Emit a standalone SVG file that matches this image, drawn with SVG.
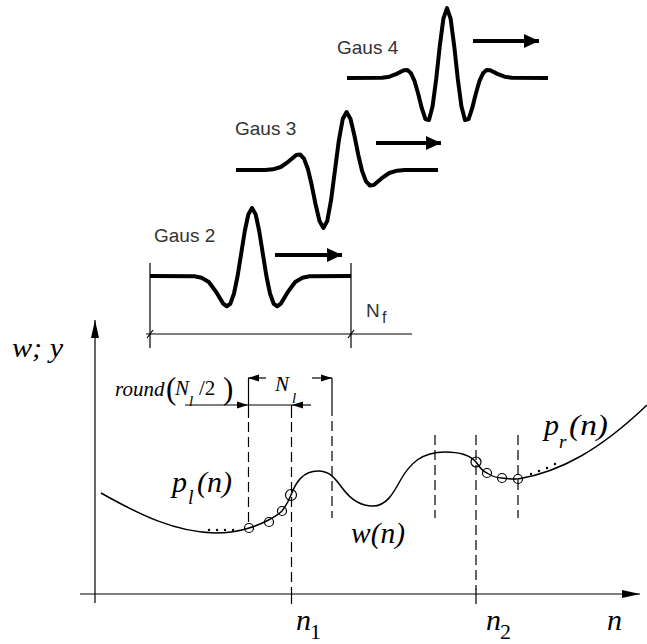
<svg xmlns="http://www.w3.org/2000/svg" width="647" height="644" viewBox="0 0 647 644">
<style>
.wave{fill:none;stroke:#000;stroke-width:4;stroke-linejoin:round;stroke-linecap:butt}
.big{stroke:#000;stroke-width:4;marker-end:url(#bigArrow)}
.thin{stroke:#000;stroke-width:1.2;fill:none}
.dim{stroke:#000;stroke-width:1.2;marker-end:url(#smallArrow)}
.dash{stroke:#000;stroke-width:1.2;stroke-dasharray:10 5;fill:none}
.curve{fill:none;stroke:#000;stroke-width:1.5}
.circ{fill:none;stroke:#000;stroke-width:1.2}
.gaus{font-family:"Liberation Sans",Arial,sans-serif;font-size:19px;fill:#333}
.it{font-family:"Liberation Serif","Times New Roman",serif;font-style:italic;fill:#000}
.up{font-family:"Liberation Serif","Times New Roman",serif;fill:#000}
</style>
<defs>
<marker id="bigArrow" markerUnits="userSpaceOnUse" markerWidth="15" markerHeight="14" refX="15" refY="7" orient="auto"><path d="M0,0 L15,7 L0,14 z" fill="#000"/></marker>
<marker id="smallArrow" markerUnits="userSpaceOnUse" markerWidth="11" markerHeight="8" refX="11" refY="4" orient="auto"><path d="M0,0.5 L11,4 L0,7.5 z" fill="#000"/></marker>
<marker id="axisArrow" markerUnits="userSpaceOnUse" markerWidth="18" markerHeight="9" refX="18" refY="4.5" orient="auto"><path d="M0,0.5 L18,4.5 L0,8.5 z" fill="#000"/></marker>
</defs>
<rect width="647" height="644" fill="#fff"/>

<g id="gaus4">
<polyline class="wave" points="347,78 382.2,77.7 389.4,76.7 396.6,73.9 403.8,70.2 407.4,70.1 411,73.3 414.6,81.2 418.2,93.8 421.8,108.2 425.4,119.1 429,120 432.6,106.3 436.2,79 439.8,45.9 443.4,18.6 447,8.1 450.6,18.6 454.2,45.9 457.8,79 461.4,106.3 465,120 468.6,119.1 472.2,108.2 475.8,93.8 479.4,81.2 483,73.3 486.6,70.1 490.2,70.2 497.4,73.9 504.6,76.7 511.8,77.7 548,78"/>
<text class="gaus" x="337" y="54">Gaus 4</text>
</g>

<g id="gaus3">
<polyline class="wave" points="236,170 265.25,169.9 273,169.3 280.75,167 288.5,161.6 296.25,155 300.1,154.5 304,158.6 307.9,169 311.75,185.3 315.6,204.5 319.5,221 323.4,228 327.25,221 331.1,199.9 335,170 338.9,140.1 342.75,119 346.6,112 350.5,119 354.4,135.5 358.25,154.7 362.1,171 366,181.4 369.9,185.5 373.75,185 381.5,178.4 389.25,173 397,170.7 404.75,170.1 438,170"/>
<text class="gaus" x="235" y="135">Gaus 3</text>
</g>

<g id="gaus2">
<polyline class="wave" points="150,276 194.4,276.3 201.6,277.7 208.8,282 216,291.7 223.2,303.6 226.8,306.3 230.4,303.6 234,293.5 237.6,276 241.2,253.5 244.8,231 248.4,214.2 252,208 255.6,214.2 259.2,231 262.8,253.5 266.4,276 270,293.5 273.6,303.6 277.2,306.3 280.8,303.6 288,291.7 295.2,282 302.4,277.7 309.6,276.3 351,276"/>
<text class="gaus" x="154" y="242">Gaus 2</text>
</g>

<g id="frame-dimension">
<line class="thin" x1="150" y1="263" x2="150" y2="348"/>
<line class="thin" x1="351" y1="263" x2="351" y2="348"/>
<line class="thin" x1="146" y1="334" x2="412" y2="334"/>
<line class="thin" x1="147" y1="338" x2="153" y2="330"/>
<line class="thin" x1="348" y1="338" x2="354" y2="330"/>
<text class="gaus" x="366" y="317">N</text>
<text class="gaus" x="382" y="323" style="font-size:16px">f</text>
</g>

<g id="connectors">
<line class="big" x1="275" y1="255" x2="342" y2="255"/>
<line class="big" x1="376" y1="143" x2="441" y2="143"/>
<line class="big" x1="473" y1="41" x2="539" y2="41"/>
<line class="thin" x1="95" y1="603" x2="95" y2="320" style="marker-end:url(#axisArrow)"/>
<line class="thin" x1="80" y1="594" x2="640" y2="594" style="marker-end:url(#axisArrow)"/>
<line class="dim" x1="266" y1="378" x2="248" y2="378"/>
<line class="dim" x1="312" y1="378" x2="332" y2="378"/>
<line class="dim" x1="185" y1="405" x2="248" y2="405"/>
<line class="thin" x1="248" y1="405" x2="292" y2="405"/>
<line class="dim" x1="311" y1="405" x2="292" y2="405"/>
</g>

<g id="guides">
<line class="thin" x1="248.5" y1="378" x2="248.5" y2="418"/>
<line class="dash" x1="248.5" y1="422" x2="248.5" y2="524"/>
<line class="thin" x1="291.5" y1="405" x2="291.5" y2="418"/>
<line class="dash" x1="291.5" y1="422" x2="291.5" y2="590"/>
<line class="thin" x1="291.5" y1="589" x2="291.5" y2="604"/>
<line class="thin" x1="332" y1="378" x2="332" y2="416"/>
<line class="dash" x1="332" y1="421" x2="332" y2="518"/>
<line class="dash" x1="435" y1="435" x2="435" y2="518"/>
<line class="dash" x1="476" y1="435" x2="476" y2="590"/>
<line class="thin" x1="476" y1="589" x2="476" y2="604"/>
<line class="dash" x1="518" y1="435" x2="518" y2="518"/>
</g>

<g id="signal">
<path class="curve" d="M101,493 C140,515 175,532 215,533 C230,533 240,531 249,528 C262,524 276,517 282,511 C286,506 289,500 291,495 C296,482 303,471 318,471 C330,471 335,478 343,489 C352,501 362,506 373,506 C386,506 393,494 400,481 C410,463 422,452 445,452 C460,452 470,455 476,462 C480,468 484,472 487,473 C493,477 498,478 502,478 C508,479 513,479 518,479 C560,472 600,450 647,405"/>
<circle class="circ" cx="249" cy="528" r="4.5"/>
<circle class="circ" cx="269" cy="522" r="4.5"/>
<circle class="circ" cx="282" cy="511" r="4.5"/>
<circle class="circ" cx="291" cy="495" r="5.5"/>
<circle class="circ" cx="476" cy="462" r="5"/>
<circle class="circ" cx="487" cy="473" r="4.5"/>
<circle class="circ" cx="502" cy="478" r="4.5"/>
<circle class="circ" cx="518" cy="479" r="4.5"/>
<g fill="#000">
<circle cx="209" cy="530" r="1.2"/><circle cx="217" cy="530" r="1.2"/><circle cx="225" cy="530" r="1.2"/><circle cx="233" cy="530" r="1.2"/>
<circle cx="531" cy="474" r="1.2"/><circle cx="539" cy="471" r="1.2"/><circle cx="547" cy="468" r="1.2"/><circle cx="555" cy="464" r="1.2"/>
</g>
</g>

<g id="labels">
<text class="it" x="12" y="357" font-size="27" textLength="51" lengthAdjust="spacingAndGlyphs">w; y</text>
<text class="it" x="115" y="396" font-size="21">round</text>
<text class="up" x="166" y="399" font-size="31">(</text>
<text class="it" x="175" y="395" font-size="21">N</text>
<text class="it" x="189" y="406" font-size="15">l</text>
<text class="up" x="199" y="395" font-size="21">/2</text>
<text class="up" x="223" y="399" font-size="31">)</text>
<text class="it" x="275" y="391" font-size="21">N</text>
<text class="it" x="292" y="403" font-size="15">l</text>
<text class="it" x="172" y="492" font-size="30">p</text>
<text class="it" x="188" y="504" font-size="20">l</text>
<text class="it" x="197" y="492" font-size="30" textLength="35" lengthAdjust="spacingAndGlyphs">(n)</text>
<text class="it" x="544" y="435" font-size="30">p</text>
<text class="it" x="559" y="448" font-size="19">r</text>
<text class="it" x="569" y="435" font-size="30" textLength="39" lengthAdjust="spacingAndGlyphs">(n)</text>
<text class="it" x="351" y="543" font-size="30" textLength="54" lengthAdjust="spacingAndGlyphs">w(n)</text>
<text class="it" x="296" y="630" font-size="30">n</text>
<text class="up" x="310" y="639" font-size="22">1</text>
<text class="it" x="486" y="630" font-size="30">n</text>
<text class="up" x="500" y="639" font-size="22">2</text>
<text class="it" x="607" y="630" font-size="30">n</text>
</g>
</svg>
